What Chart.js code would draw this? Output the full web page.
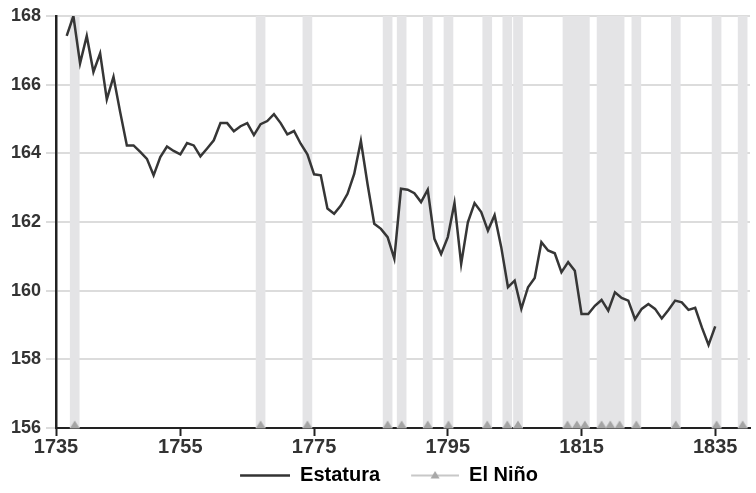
<!DOCTYPE html>
<html>
<head>
<meta charset="utf-8">
<script src="https://cdn.jsdelivr.net/npm/chart.js@4"></script>
<style>
  html, body { margin: 0; padding: 0; background: #fff; }
  #wrap { width: 756px; height: 493px; }
</style>
</head>
<body>
<div id="wrap"><canvas id="graph" width="756" height="493"></canvas></div>
<script>
// yearly mean height (cm), 1738-1835
var firstYear = 1738;
var estatura = [
  167.42, 168.0, 166.62, 167.42, 166.37, 166.91, 165.57, 166.23, 165.2, 164.23,
  164.23, 164.04, 163.84, 163.36, 163.89, 164.2, 164.07, 163.97, 164.3, 164.23,
  163.91, 164.14, 164.38, 164.88, 164.88, 164.64, 164.79, 164.88, 164.53, 164.85,
  164.94, 165.14, 164.88, 164.55, 164.65, 164.28, 163.97, 163.39, 163.36, 162.39,
  162.24, 162.48, 162.82, 163.4, 164.36, 163.1, 161.95, 161.8, 161.56, 160.93,
  162.97, 162.94, 162.84, 162.58, 162.94, 161.51, 161.07, 161.56, 162.55, 160.78,
  161.99, 162.55, 162.29, 161.75, 162.2, 161.26, 160.1, 160.29, 159.47, 160.1,
  160.37, 161.41, 161.17, 161.09, 160.54, 160.83, 160.58, 159.32, 159.32, 159.56,
  159.73, 159.42, 159.95, 159.79, 159.71, 159.17, 159.47, 159.61, 159.47, 159.19,
  159.44, 159.71, 159.66, 159.44, 159.5, 158.93, 158.42, 158.96
];

// El Nino events (positions)
var elNino = [
  1739.2, 1767, 1774, 1786, 1788.1, 1792, 1795.1, 1800.9, 1803.9, 1805.5,
  1812.9, 1814.3, 1815.5, 1818, 1819.3, 1820.7, 1823.2, 1829.1, 1835.2, 1839.1
];

var yearTicks = [1735, 1755, 1775, 1795, 1815, 1835];
var heightTicks = [156, 158, 160, 162, 164, 166, 168];

var xMin = 1736.4, xMax = 1840.2;
var yMin = 156, yMax = 168;

var lineData = estatura.map(function(v, i) {
  return { x: firstYear + i, y: v };
});
var bandData = elNino.map(function(yr) {
  return { x: yr, y: [yMin, yMax] };
});
var markData = elNino.map(function(yr) {
  return { x: yr, y: yMin };
});

// triangle that sits on top of its point (so it rests on the axis)
var triangleUp = function(color) {
  var c = document.createElement('canvas');
  c.width = 12;
  c.height = 16;
  var g = c.getContext('2d');
  g.fillStyle = color;
  g.beginPath();
  g.moveTo(6, 0.5);
  g.lineTo(11, 8.5);
  g.lineTo(1, 8.5);
  g.closePath();
  g.fill();
  return c;
};

// little canvases used as legend symbols
var legendSymbol = function(color, width, margin, len, triangle) {
  var c = document.createElement('canvas');
  c.width = margin + len;
  c.height = 12;
  var g = c.getContext('2d');
  g.strokeStyle = color;
  g.lineWidth = width;
  g.beginPath();
  g.moveTo(margin, 6.5);
  g.lineTo(margin + len, 6.5);
  g.stroke();
  if (triangle) {
    g.fillStyle = '#a8a8a8';
    g.beginPath();
    g.moveTo(margin + len / 2, 2);
    g.lineTo(margin + len / 2 + 4.5, 9.5);
    g.lineTo(margin + len / 2 - 4.5, 9.5);
    g.closePath();
    g.fill();
  }
  return c;
};
var symEstatura = legendSymbol('#333', 2.5, 22, 50, false);
var symNino = legendSymbol('#c8c8c8', 2, 24, 48, true);

var font = 'Liberation Sans, Arial, sans-serif';

var ctx = document.getElementById('graph').getContext('2d');
var chart = new Chart(ctx, {
  type: 'line',
  data: {
    datasets: [{
      type: 'bar',
      label: 'bands',
      data: bandData,
      backgroundColor: '#e4e4e6',
      borderWidth: 0,
      barThickness: 9,
      order: 3
    }, {
      label: 'Estatura',
      data: lineData,
      borderColor: '#363636',
      borderWidth: 2.5,
      pointRadius: 0,
      tension: 0,
      order: 1
    }, {
      label: 'El Niño',
      data: markData,
      showLine: false,
      pointStyle: triangleUp('#a4a4a4'),
      pointRadius: 5,
      clip: false,
      order: 2
    }]
  },
  options: {
    responsive: false,
    animation: false,
    layout: { padding: { top: 16, right: 0, left: 0, bottom: -2 } },
    plugins: {
      tooltip: { enabled: false },
      legend: {
        position: 'bottom',
        labels: {
          usePointStyle: true,
          pointStyleWidth: 72,
          padding: 7,
          color: '#222',
          font: { family: font, size: 20, weight: 'bold' },
          generateLabels: function() {
            return [{
              text: 'Estatura', pointStyle: symEstatura, datasetIndex: 1,
              fillStyle: 'transparent', strokeStyle: 'transparent', lineWidth: 0, hidden: false
            }, {
              text: 'El Niño', pointStyle: symNino, datasetIndex: 2,
              fillStyle: 'transparent', strokeStyle: 'transparent', lineWidth: 0, hidden: false
            }];
          }
        }
      }
    },
    scales: {
      x: {
        type: 'linear',
        min: xMin,
        max: xMax,
        offset: false,
        afterBuildTicks: function(scale) {
          scale.ticks = yearTicks.map(function(t) {
            return { value: t < xMin ? xMin : t };
          });
        },
        afterFit: function(scale) { scale.height = 30; },
        ticks: {
          autoSkip: false,
          maxRotation: 0,
          padding: -1,
          color: '#333',
          font: { family: font, size: 20, weight: 'bold' },
          callback: function(value, index) { return String(yearTicks[index]); }
        },
        grid: {
          offset: false,
          drawOnChartArea: false,
          drawTicks: true,
          tickLength: 8,
          tickColor: '#222',
          tickWidth: 2
        },
        border: { color: '#222', width: 2 }
      },
      y: {
        min: yMin,
        max: yMax,
        afterBuildTicks: function(scale) {
          scale.ticks = heightTicks.map(function(t) { return { value: t }; });
        },
        afterFit: function(scale) { scale.width = 56; },
        ticks: {
          padding: 5,
          color: '#333',
          font: { family: font, size: 18, weight: 'bold' }
        },
        grid: {
          color: '#dcdcdc',
          lineWidth: 2,
          tickLength: 10
        },
        border: { color: '#222', width: 2.5 }
      }
    }
  }
});
</script>
</body>
</html>
